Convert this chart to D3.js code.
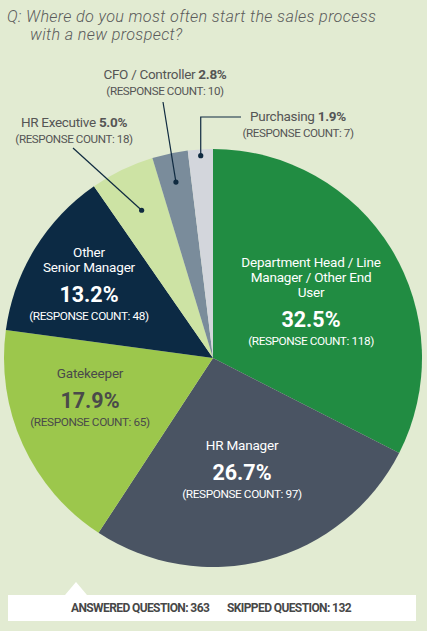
<!DOCTYPE html>
<html>
<head>
<meta charset="utf-8">
<script src="https://cdn.jsdelivr.net/npm/d3@7"></script>
<style>
  html, body { margin: 0; padding: 0; background: #e2ebd2; }
  svg { display: block; font-family: Roboto, "Open Sans", sans-serif; }
</style>
</head>
<body>
<svg id="chart" width="427" height="631"></svg>
<script>
// ---- data ----
const categories = ["Department Head / Line Manager / Other End User", "HR Manager", "Gatekeeper",
  "Other Senior Manager", "HR Executive", "CFO / Controller", "Purchasing"];
const counts = [118, 97, 65, 48, 18, 10, 7];
const percents = ["32.5%", "26.7%", "17.9%", "13.2%", "5.0%", "2.8%", "1.9%"];
const colors = ["#218c42", "#4a5463", "#9cc74c", "#0c2a44", "#cde3a4", "#7a8c9b", "#d3d6dc"];
const answered = 363, skipped = 132;

const W = 427, H = 631;
const cx = 213, cy = 358, R = 209;
const svg = d3.select("#chart");

svg.append("rect").attr("width", W).attr("height", H).attr("fill", "#e2ebd2");

// title
const title = svg.append("text").attr("fill", "#5b5b5b").attr("font-style", "italic")
  .attr("font-weight", 300).attr("font-size", 16.2).attr("letter-spacing", 0.35);
title.append("tspan").attr("x", 7).attr("y", 22).text("Q: Where do you most often start the sales process");
title.append("tspan").attr("x", 30).attr("y", 40).text("with a new prospect?");

// pie
const data = categories.map((c, i) => ({ cat: c, count: counts[i], pct: percents[i], color: colors[i] }));
const pie = d3.pie().sort(null).value(d => d.count);
const arcs = pie(data);
const arc = d3.arc().innerRadius(0).outerRadius(R);
const g = svg.append("g").attr("transform", `translate(${cx},${cy})`);
g.selectAll("path").data(arcs).join("path")
  .attr("d", arc).attr("fill", d => d.data.color);

// leader lines for the small slices
const lineColor = "#0f2a40";
function pointAt(a, frac) {
  return d3.arc().innerRadius(R * frac).outerRadius(R * frac).centroid(a);
}
const leaders = [
  { idx: 4, frac: 0.785, path: (p) => [[73 - cx, 148 - cy], p] },
  { idx: 5, frac: 0.86, path: (p) => [[163 - cx, 102 - cy], p] },
  { idx: 6, frac: 0.97, path: (p) => [[241 - cx, 117 - cy], [p[0], 117 - cy], p] }
];
leaders.forEach(l => {
  const p = pointAt(arcs[l.idx], l.frac);
  g.append("path").attr("d", d3.line()(l.path(p)))
    .attr("fill", "none").attr("stroke", lineColor).attr("stroke-width", 1.2);
  g.append("circle").attr("cx", p[0]).attr("cy", p[1]).attr("r", 2.6).attr("fill", lineColor);
});

// outside labels
function outsideLabel(x, y, name, pct, count, anchor) {
  const t = svg.append("text").attr("text-anchor", anchor).attr("fill", "#555");
  const l1 = t.append("tspan").attr("x", x).attr("y", y).attr("font-size", 13.5).attr("letter-spacing", -0.3);
  l1.append("tspan").text(name + " ");
  l1.append("tspan").attr("font-weight", "bold").text(pct);
  t.append("tspan").attr("x", x).attr("y", y + 16).attr("font-size", 11.6).attr("letter-spacing", -0.4)
    .text(`(RESPONSE COUNT: ${count})`);
}
outsideLabel(165, 79, categories[5], percents[5], counts[5], "middle");
outsideLabel(74, 127, categories[4], percents[4], counts[4], "middle");
outsideLabel(298, 121, categories[6], percents[6], counts[6], "middle");

// inside labels
function insideLabel(x, y, lines, pct, count, color) {
  const t = svg.append("text").attr("text-anchor", "middle").attr("fill", color);
  lines.forEach((ln, i) => {
    t.append("tspan").attr("x", x).attr("y", y + i * 15).attr("font-size", 13.5).attr("letter-spacing", -0.2).text(ln);
  });
  const yb = y + (lines.length - 1) * 15;
  t.append("tspan").attr("x", x).attr("y", yb + 30).attr("font-size", 21.5).attr("font-weight", "bold").text(pct);
  t.append("tspan").attr("x", x).attr("y", yb + 48).attr("font-size", 11.8).attr("letter-spacing", -0.4)
    .text(`(RESPONSE COUNT: ${count})`);
}
insideLabel(311, 267, ["Department Head / Line", "Manager / Other End", "User"], percents[0], counts[0], "#ffffff");
insideLabel(242, 450, ["HR Manager"], percents[1], counts[1], "#ffffff");
insideLabel(90, 378, ["Gatekeeper"], percents[2], counts[2], "#4a4a4a");
insideLabel(89, 257, ["Other", "Senior Manager"], percents[3], counts[3], "#ffffff");

// bottom box
svg.append("path").attr("d", "M65,595 L76,582 L87,595 Z").attr("fill", "#ffffff");
svg.append("rect").attr("x", 8).attr("y", 595).attr("width", 408).attr("height", 26).attr("fill", "#ffffff");
svg.append("text").attr("x", 71).attr("y", 612).attr("font-size", 12).attr("font-weight", "bold")
  .attr("letter-spacing", -0.6).attr("fill", "#474747").text(`ANSWERED QUESTION: ${answered}`);
svg.append("text").attr("x", 227).attr("y", 612).attr("font-size", 12).attr("font-weight", "bold")
  .attr("letter-spacing", -0.6).attr("fill", "#474747").text(`SKIPPED QUESTION: ${skipped}`);
</script>
</body>
</html>
